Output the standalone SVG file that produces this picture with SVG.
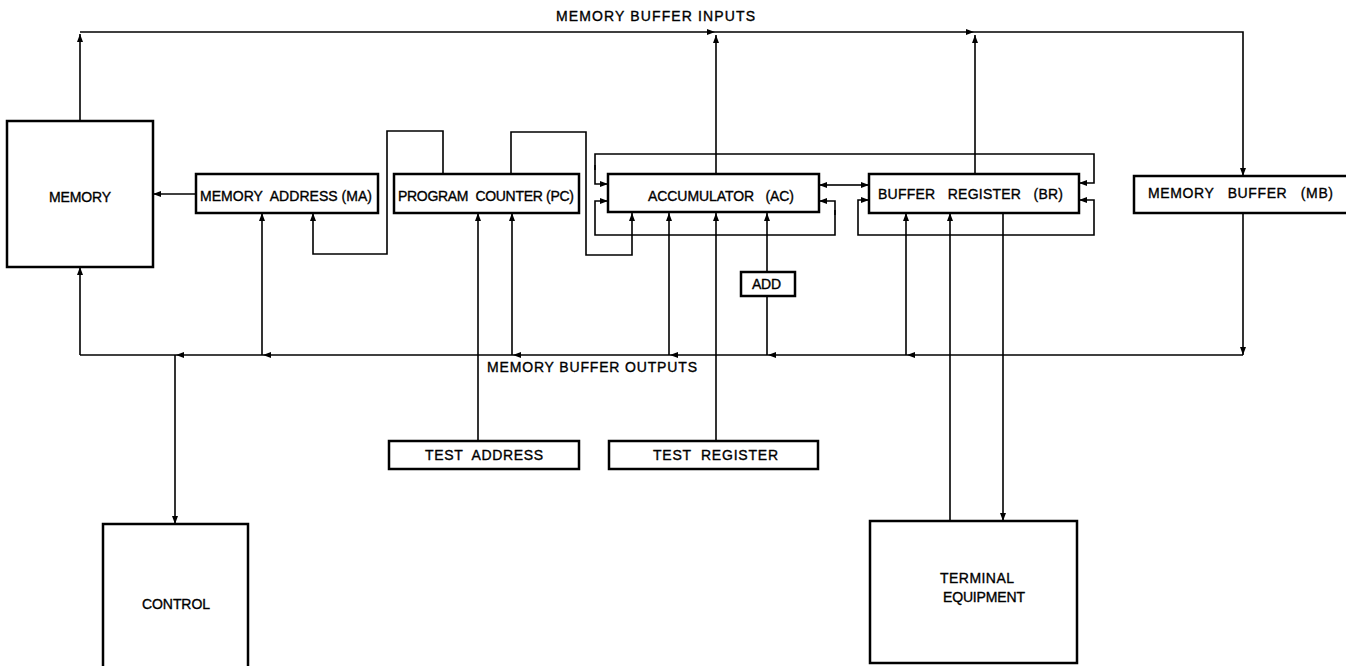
<svg xmlns="http://www.w3.org/2000/svg" width="1346" height="666" viewBox="0 0 1346 666">
<defs>
<marker id="ah" viewBox="0 0 8 6" refX="8" refY="3" markerWidth="8" markerHeight="6" markerUnits="userSpaceOnUse" orient="auto"><path d="M0,0 L8,3 L0,6 z" fill="#000"/></marker>
<path id="jl" d="M0,0 L8,-3 L8,3 z" fill="#000"/>
<path id="jr" d="M0,0 L-8,-3 L-8,3 z" fill="#000"/>
</defs>
<style>
.box{fill:#fff;stroke:#000;stroke-width:2.5}
.w{fill:none;stroke:#000;stroke-width:1.6}
.a{marker-end:url(#ah)}
text{font-family:"Liberation Sans",Arial,sans-serif;font-size:14px;fill:#000;stroke:#000;stroke-width:0.35;white-space:pre}
</style>
<rect width="1346" height="666" fill="#fff"/>
<g id="connectors">
<path class="w a" d="M80,121 V34"/>
<path class="w a" d="M80,32 H1243 V176"/>
<path class="w a" d="M716,174 V35"/>
<path class="w a" d="M975,174 V35"/>
<use href="#jr" x="715" y="32"/>
<use href="#jr" x="974" y="32"/>
<path class="w a" d="M196,194 H153"/>
<path class="w a" d="M262,355 V213"/>
<path class="w a" d="M443,174 V131 H387 V254 H313 V213"/>
<path class="w a" d="M511,174 V132 H586 V255 H632 V213"/>
<path class="w a" d="M478,441 V213"/>
<path class="w a" d="M512,355 V213"/>
<path class="w a" d="M669,355 V213"/>
<path class="w a" d="M716,441 V213"/>
<path class="w a" d="M767,272 V213"/>
<path class="w" d="M767,355 V296"/>
<path class="w a" d="M595,170 V154 H1094 V183 H1079"/>
<path class="w a" d="M595,165 V184 H608"/>
<path class="w a" d="M835,215 V201 H819"/>
<path class="w a" d="M835,210 V235 H595 V201 H608"/>
<path class="w a" d="M844,185 H819"/>
<path class="w a" d="M844,185 H869"/>
<path class="w a" d="M1094,215 V200 H1079"/>
<path class="w a" d="M1094,215 V235 H858 V200 H869"/>
<path class="w a" d="M906,355 V213"/>
<path class="w a" d="M950,521 V213"/>
<path class="w a" d="M1003,213 V521"/>
<path class="w a" d="M1243,213 V355"/>
<path class="w" d="M80,355 H1243"/>
<path class="w a" d="M80,355 V267"/>
<path class="w a" d="M175,355 V524"/>
<use href="#jl" x="176" y="355"/>
<use href="#jl" x="263" y="355"/>
<use href="#jl" x="513" y="355"/>
<use href="#jl" x="670" y="355"/>
<use href="#jl" x="768" y="355"/>
<use href="#jl" x="907" y="355"/>
</g>
<g id="label-inputs"><text x="556" y="21" textLength="199" lengthAdjust="spacing">MEMORY BUFFER INPUTS</text></g>
<g id="label-outputs"><text x="487" y="372" textLength="210" lengthAdjust="spacing">MEMORY BUFFER OUTPUTS</text></g>
<g id="memory"><rect class="box" x="7" y="121" width="146" height="146"/><text x="49" y="202" textLength="62" lengthAdjust="spacing">MEMORY</text></g>
<g id="ma"><rect class="box" x="196" y="174" width="182" height="39"/><text x="200" y="201" textLength="172" lengthAdjust="spacing" xml:space="preserve">MEMORY  ADDRESS (MA)</text></g>
<g id="pc"><rect class="box" x="394" y="174" width="185" height="39"/><text x="398" y="201" textLength="176" lengthAdjust="spacing" xml:space="preserve">PROGRAM  COUNTER (PC)</text></g>
<g id="ac"><rect class="box" x="608" y="174" width="211" height="38"/><text x="648" y="201" textLength="146" lengthAdjust="spacing" xml:space="preserve">ACCUMULATOR   (AC)</text></g>
<g id="br"><rect class="box" x="869" y="174" width="210" height="39"/><text x="878" y="199" textLength="185" lengthAdjust="spacing" xml:space="preserve">BUFFER   REGISTER   (BR)</text></g>
<g id="mb"><rect class="box" x="1134" y="176" width="220" height="37"/><text x="1148" y="198" textLength="185" lengthAdjust="spacing" xml:space="preserve">MEMORY   BUFFER   (MB)</text></g>
<g id="add"><rect class="box" x="741" y="272" width="54" height="24"/><text x="752" y="289" textLength="29" lengthAdjust="spacing">ADD</text></g>
<g id="test-address"><rect class="box" x="389" y="441" width="190" height="28"/><text x="425" y="460" textLength="118" lengthAdjust="spacing" xml:space="preserve">TEST  ADDRESS</text></g>
<g id="test-register"><rect class="box" x="609" y="441" width="209" height="28"/><text x="653" y="460" textLength="125" lengthAdjust="spacing" xml:space="preserve">TEST  REGISTER</text></g>
<g id="control"><rect class="box" x="103" y="524" width="145" height="150"/><text x="142" y="609" textLength="68" lengthAdjust="spacing">CONTROL</text></g>
<g id="terminal"><rect class="box" x="870" y="521" width="207" height="142"/><text x="940" y="583" textLength="74" lengthAdjust="spacing">TERMINAL</text><text x="943" y="602" textLength="82" lengthAdjust="spacing">EQUIPMENT</text></g>
</svg>
